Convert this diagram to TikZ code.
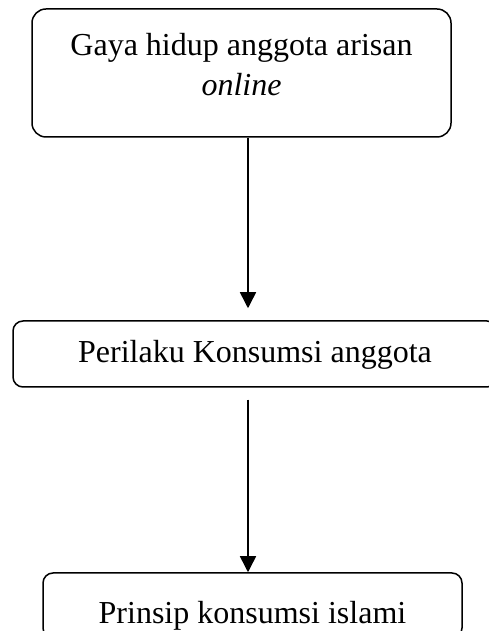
\documentclass[tikz,border=0pt]{standalone}
\usepackage{fontspec}
\setmainfont{Liberation Serif}
\usetikzlibrary{arrows.meta}

\begin{document}
\begin{tikzpicture}[x=1pt, y=1pt, line width=1.5pt,
  box/.style={draw, rounded corners=10pt, inner sep=0pt, font=\fontsize{32}{40}\selectfont},
  flow/.style={-{Triangle[length=16pt, width=16pt]}}]
  \useasboundingbox (0,0) rectangle (489,631);
  \node [box, rounded corners=14pt, minimum width=419pt, minimum height=128pt, align=center] (gaya) at (241.5,558) {Gaya hidup anggota arisan\\\textit{online}\rule[-18pt]{0pt}{18pt}};
  \node [box, minimum width=484pt, text height=42pt, text depth=24pt, anchor=base] (perilaku) at (255,268) {Perilaku Konsumsi anggota};
  \node [box, minimum width=419pt, text height=50pt, text depth=15pt, anchor=base] (prinsip) at (252.5,8) {Prinsip konsumsi islami};
  \coordinate (axis) at (248,0);
  \draw [flow] (gaya.south -| axis) -- ([yshift=12pt]perilaku.north -| axis);
  \draw [flow] ([yshift=-12pt]perilaku.south -| axis) -- (prinsip.north -| axis);
\end{tikzpicture}
\end{document}
